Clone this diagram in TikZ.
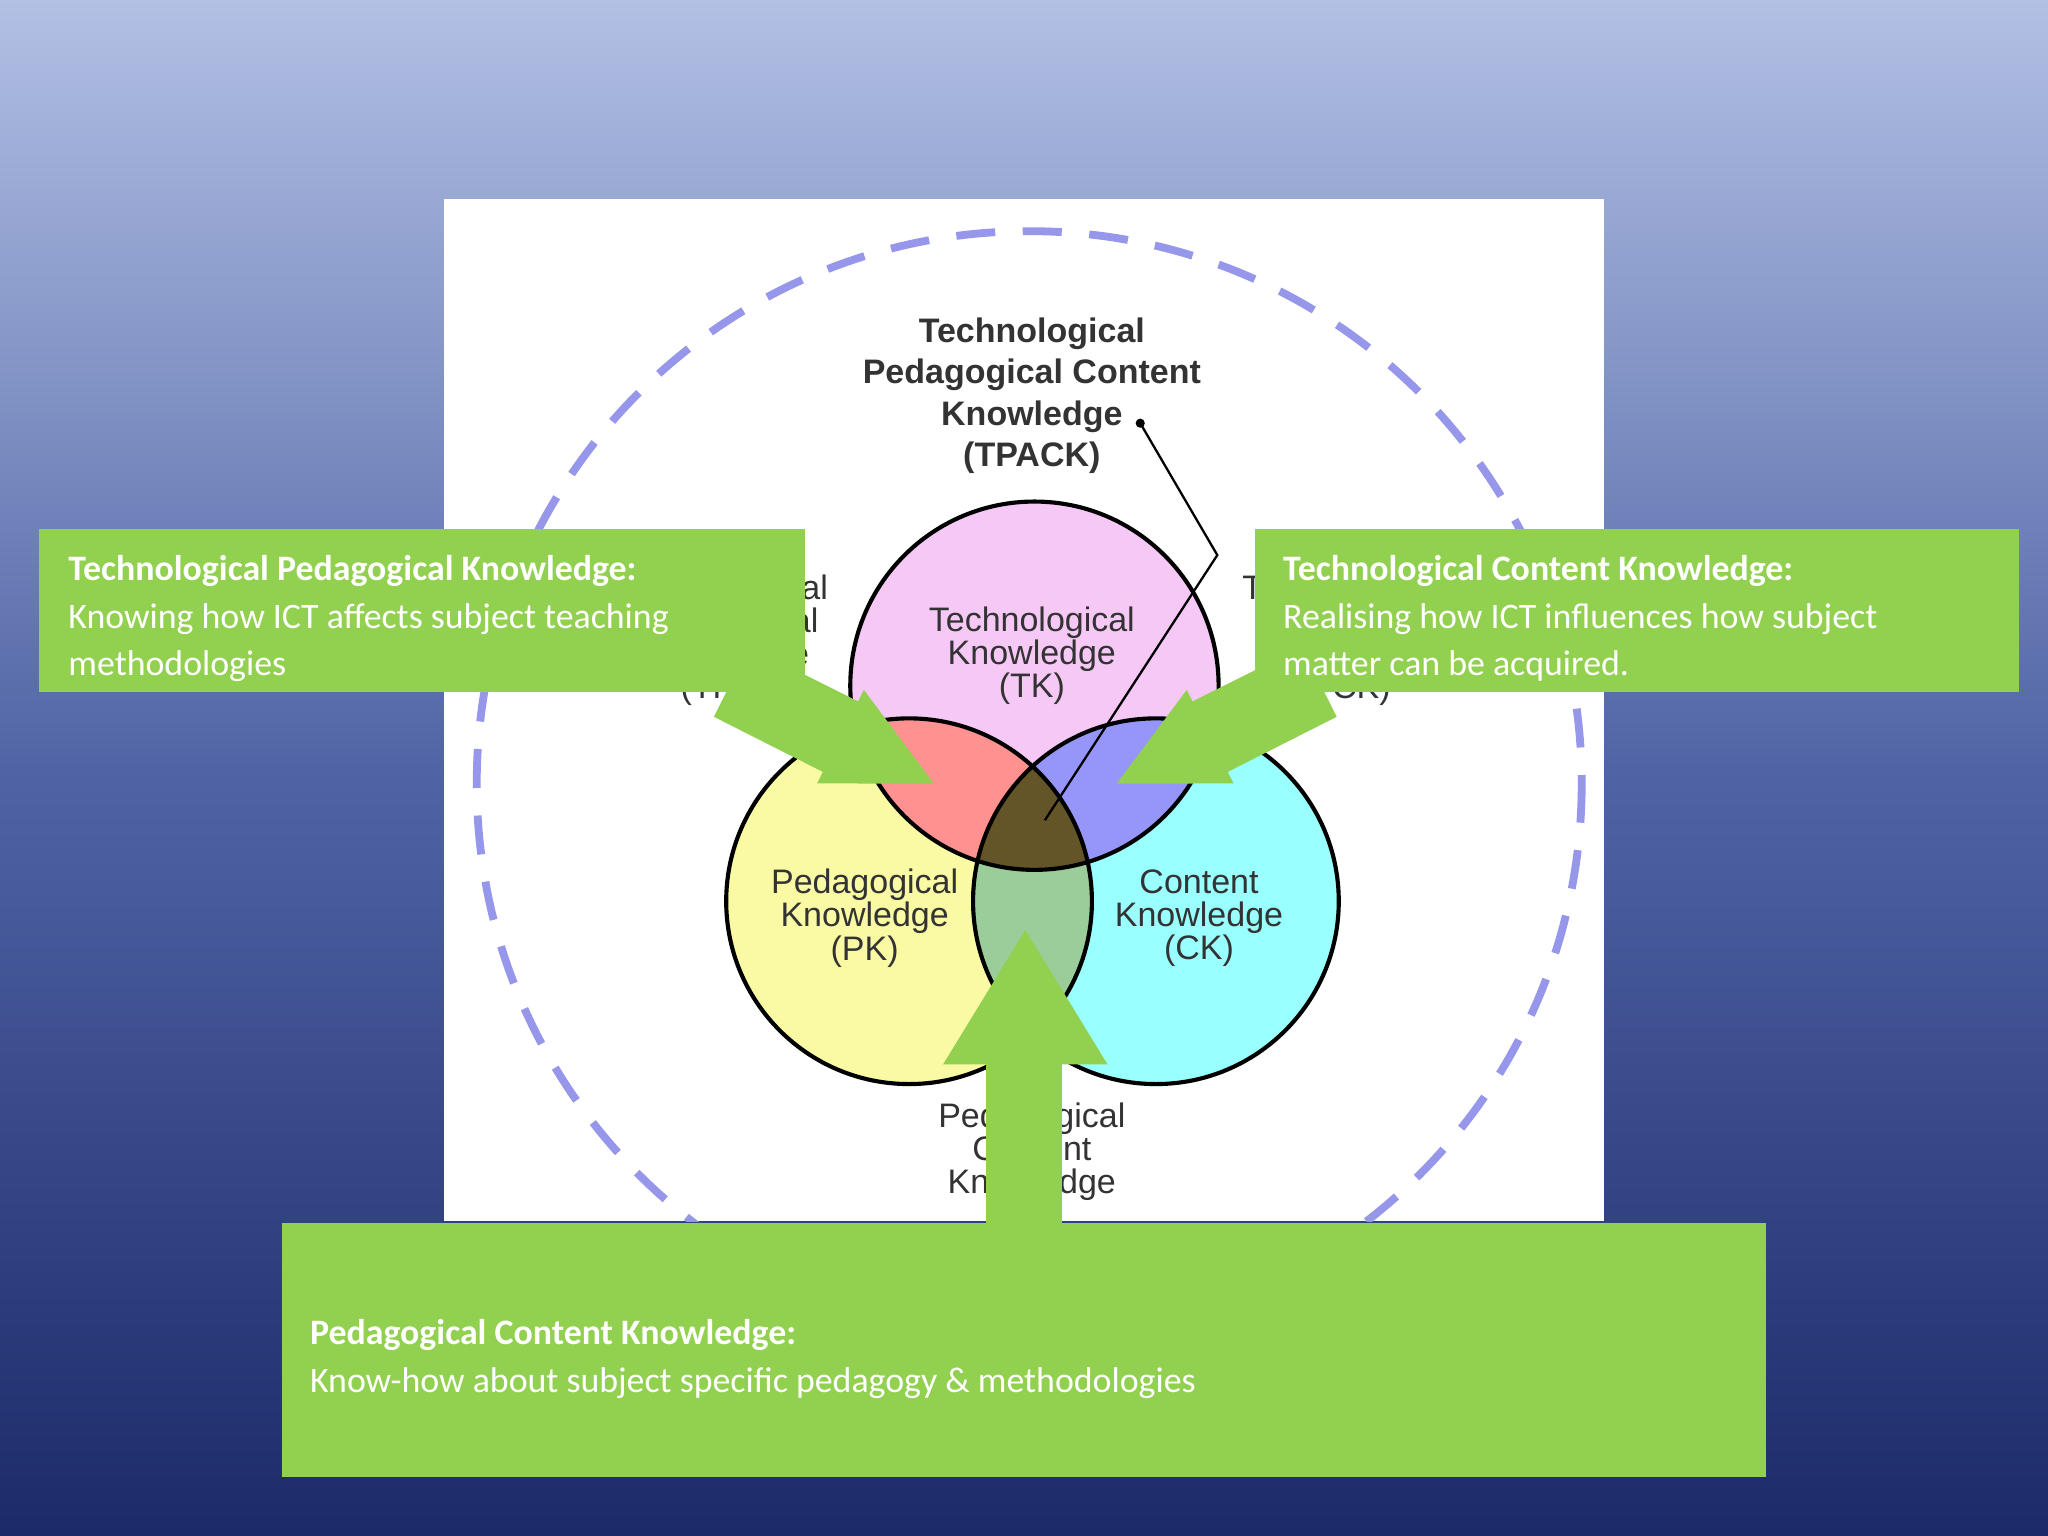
\documentclass[tikz,border=0pt]{standalone}
\usepackage{fontspec}
\setmainfont{Liberation Sans}
\newfontfamily\carlitofont{Carlito}
\definecolor{gr}{RGB}{146,208,80}
\definecolor{bgtop}{RGB}{178,192,228}
\definecolor{bgmid}{RGB}{80,100,165}
\definecolor{bgbot}{RGB}{28,42,105}
\definecolor{dashc}{RGB}{150,150,235}
\definecolor{tkc}{RGB}{246,200,246}
\definecolor{pkc}{RGB}{250,250,165}
\definecolor{ckc}{RGB}{153,255,255}
\definecolor{tpkc}{RGB}{255,145,145}
\definecolor{tckc}{RGB}{150,150,250}
\definecolor{pckc}{RGB}{155,205,155}
\definecolor{tpackc}{RGB}{100,85,40}
\begin{document}
\begin{tikzpicture}[x=0.01cm,y=-0.01cm,
  venn/.style={draw=black,line width=0.9pt},
  lbl/.style={align=center,font=\fontsize{7.4}{7.2}\selectfont,text=black!80},
  gtext/.style={text=white,align=left,anchor=north west,font=\carlitofont\fontsize{7.8}{10.3}\selectfont}]
\useasboundingbox (0,0) rectangle (1568,1176);
\shade[top color=bgtop,bottom color=bgbot,middle color=bgmid] (0,0) rectangle (1568,1176);
\fill[white] (340,152) rectangle (1228,935);
\begin{scope}
\clip (340,152) rectangle (1228,935);
\draw[draw=dashc,line width=1.7pt,dash pattern=on 8.5pt off 6pt] (788,600) circle (423);
\end{scope}
% circles
\fill[tkc] (792,525) circle (141);
\fill[pkc] (696,690) circle (140);
\fill[ckc] (885,690) circle (140);
\begin{scope}\clip (792,525) circle (141); \fill[tpkc] (696,690) circle (140); \fill[tckc] (885,690) circle (140);\end{scope}
\begin{scope}\clip (696,690) circle (140); \fill[pckc] (885,690) circle (140);
\clip (885,690) circle (140); \fill[tpackc] (792,525) circle (141);\end{scope}
\draw[venn] (792,525) circle (141);
\draw[venn] (696,690) circle (140);
\draw[venn] (885,690) circle (140);
% texts
\node[lbl,font=\bfseries\fontsize{7.4}{9}\selectfont] (tpack) at (790,303) {Technological\\Pedagogical Content\\Knowledge\\(TPACK)};
\node[lbl] (tk) at (790,502) {Technological\\Knowledge\\(TK)};
\node[lbl] (pk) at (662,703) {Pedagogical\\Knowledge\\(PK)};
\node[lbl] (ck) at (918,703) {Content\\Knowledge\\(CK)};
\node[lbl] (pck) at (790,882) {Pedagogical\\Content\\Knowledge};
\node[lbl] (tpk) at (555,490) {Technological\\Pedagogical\\Knowledge\\(TPK)};
\node[lbl] (tck) at (1030,490) {Technological\\Content\\Knowledge\\(TCK)};
\fill (873,324) circle (3.5);
\coordinate (dot) at (873,324);
\coordinate (bend) at (932,425);
\coordinate (ctr) at (800,628);
\draw[line width=0.5pt] (dot) -- (bend) -- (ctr);
% arrows
\fill[gr] (546.6,548.8) -- (630,591) -- (625.6,599.8) -- (715,600) -- (661.4,528.2) -- (657,537) -- (573.4,495.2) -- cycle;
\fill[gr] (1023.4,548.8) -- (940,591) -- (944.4,599.8) -- (855,600) -- (908.6,528.2) -- (913,537) -- (996.6,495.2) -- cycle;
\fill[gr] (755,940) -- (755,815) -- (722,815) -- (785,712) -- (848,815) -- (813,815) -- (813,940) -- cycle;
% boxes
\fill[gr] (30,405) rectangle (616,530);
\fill[gr] (961,405) rectangle (1546,530);
\fill[gr] (216,936) rectangle (1352,1131);
\node[gtext] (t1) at (40,413) {\textbf{Technological Pedagogical Knowledge:}\\Knowing how ICT affects subject teaching\\methodologies};
\node[gtext] (t2) at (970,413) {\textbf{Technological Content Knowledge:}\\Realising how ICT influences how subject\\matter can be acquired.};
\node[gtext] (t3) at (225,998) {\textbf{Pedagogical Content Knowledge:}\\Know-how about subject specific pedagogy \& methodologies};
\end{tikzpicture}
\end{document}
